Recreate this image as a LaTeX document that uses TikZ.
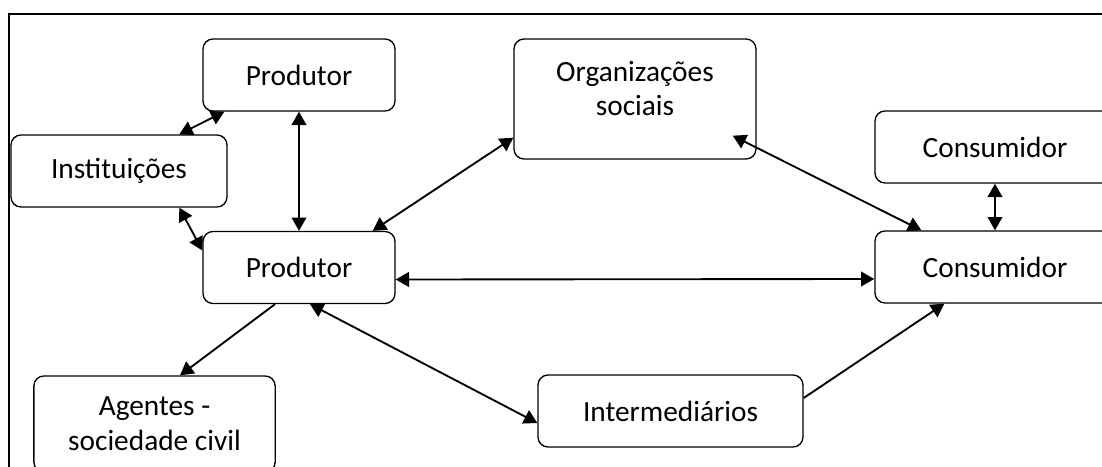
\documentclass[tikz,border=0pt]{standalone}
\usepackage{fontspec}
\setmainfont{Carlito}
\usetikzlibrary{arrows.meta,calc}

\begin{document}
\begin{tikzpicture}[x=0.75pt, y=-0.75pt,
    every node/.style={font=\fontsize{22}{26}\selectfont},
    box/.style={draw, line width=1pt, rounded corners=7.5pt, minimum height=54pt, align=center, inner sep=0pt},
    link/.style={line width=1.4pt, {Triangle[length=10pt,width=11pt]}-{Triangle[length=10pt,width=11pt]}},
    onelink/.style={line width=1.4pt, -{Triangle[length=10pt,width=11pt]}}]
  \useasboundingbox (0,0) rectangle (1102,467);
  \clip (0,0) rectangle (1102,467);
  \draw[line width=1.3pt] (9,14) rectangle (1140,500);

  \node[box, minimum width=144pt] (prodtop) at (299,75) {Produtor};
  \node[box, minimum width=162pt] (inst) at (119,171) {Instituições};
  \node[box, minimum width=144pt] (prod) at (299,267.5) {Produtor};
  \node[box, minimum width=181.5pt, minimum height=90pt, text depth=16pt] (org) at (635,99) {Organizações\\sociais};
  \node[box, minimum width=180pt] (constop) at (995,147) {Consumidor};
  \node[box, minimum width=180pt] (cons) at (995,267) {Consumidor};
  \node[box, minimum width=181pt, minimum height=72pt] (agentes) at (154.5,424) {Agentes -\\sociedade civil};
  \node[box, minimum width=198.75pt] (inter) at (670.5,411) {Intermediários};

  \draw[link] ($(prodtop.south west)+(22,0)$) -- ($(inst.north west)+(169,0)$);
  \draw[link] (prodtop.south) -- (prod.north);
  \draw[link] ($(inst.south west)+(169,0)$) -- ($(prod.west)+(0,-17)$);
  \draw[link] ($(prod.north east)+(-23,0)$) -- ($(org.south west)+(0,-22)$);
  \draw[link] ($(org.south east)+(-24,-24)$) -- ($(cons.north west)+(47,0)$);
  \draw[link] (constop.south) -- (cons.north);
  \draw[link] ($(prod.east)+(0,12)$) -- ($(cons.west)+(0,12)$);
  \draw[onelink] ($(prod.south)+(-24,0)$) -- ($(agentes.north)+(25.5,0)$);
  \draw[link] ($(prod.south)+(11,0)$) -- ($(inter.west)+(0,12)$);
  \draw[onelink] ($(inter.east)+(0,-13)$) -- ($(cons.south west)+(70,0)$);
\end{tikzpicture}
\end{document}
